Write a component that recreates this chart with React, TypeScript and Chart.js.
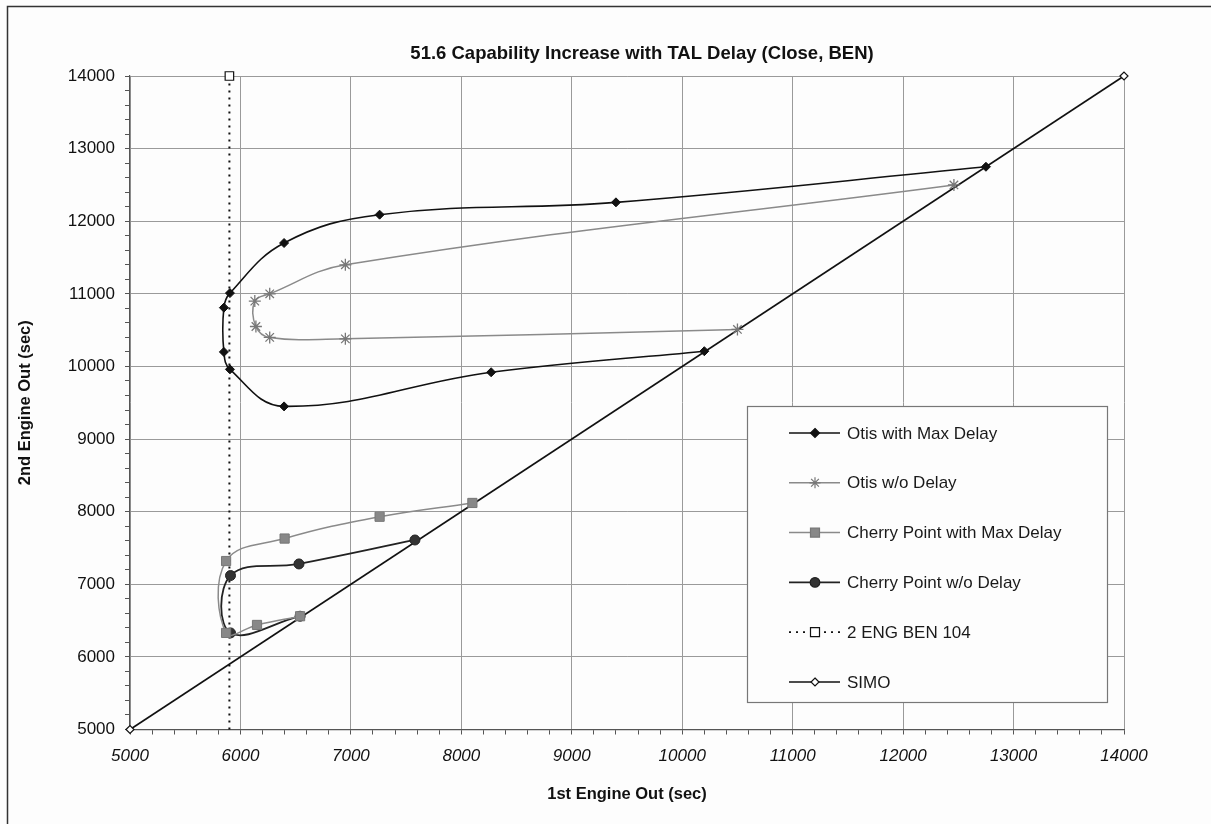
import React, { useEffect, useRef } from 'react';
import { Chart, registerables } from 'chart.js';

Chart.register(...registerables);

const titleText = '51.6 Capability Increase with TAL Delay (Close, BEN)';
const xAxisTitle = '1st Engine Out (sec)';
const yAxisTitle = '2nd Engine Out (sec)';

const seriesNames = [
  'Otis with Max Delay',
  'Otis w/o Delay',
  'Cherry Point with Max Delay',
  'Cherry Point w/o Delay',
  '2 ENG BEN 104',
  'SIMO',
];

const otisMaxX = [12750, 9400, 7260, 6395, 5905, 5850, 5850, 5905, 6395, 8270, 10200];
const otisMaxY = [12750, 12260, 12090, 11700, 11010, 10810, 10200, 9960, 9450, 9920, 10210];

const otisNoX = [12460, 6950, 6265, 6130, 6140, 6265, 6950, 10500];
const otisNoY = [12500, 11400, 11000, 10900, 10550, 10400, 10380, 10510];

const cherryMaxX = [8100, 7260, 6400, 5870, 5870, 6150, 6540];
const cherryMaxY = [8120, 7930, 7630, 7320, 6330, 6440, 6560];

const cherryNoX = [7580, 6530, 5910, 5910, 6540];
const cherryNoY = [7610, 7280, 7120, 6330, 6560];

const engBenX = [5900, 5900];
const engBenY = [5000, 14000];

const simoX = [5000, 14000];
const simoY = [5000, 14000];

const axisMin = 5000;
const axisMax = 14000;
const majorStep = 1000;
const minorStep = 200;

const FONT = "'Liberation Sans', Arial, sans-serif";

const pts = (xs: number[], ys: number[]) => xs.map((x, i) => ({ x, y: ys[i] }));

function drawMarker(
  ctx: CanvasRenderingContext2D,
  style: string,
  x: number,
  y: number,
  r: number,
  fill: string,
  stroke: string,
  lw: number
) {
  ctx.save();
  ctx.beginPath();
  ctx.lineWidth = lw;
  ctx.strokeStyle = stroke;
  ctx.fillStyle = fill;
  if (style === 'diamond') {
    ctx.moveTo(x, y - r);
    ctx.lineTo(x + r, y);
    ctx.lineTo(x, y + r);
    ctx.lineTo(x - r, y);
    ctx.closePath();
    ctx.fill();
    ctx.stroke();
  } else if (style === 'square') {
    ctx.rect(x - r, y - r, 2 * r, 2 * r);
    ctx.fill();
    ctx.stroke();
  } else if (style === 'circle') {
    ctx.arc(x, y, r, 0, Math.PI * 2);
    ctx.fill();
    ctx.stroke();
  } else if (style === 'star') {
    for (let k = 0; k < 4; k++) {
      const a = (k * Math.PI) / 4;
      ctx.moveTo(x - Math.cos(a) * r, y - Math.sin(a) * r);
      ctx.lineTo(x + Math.cos(a) * r, y + Math.sin(a) * r);
    }
    ctx.stroke();
  }
  ctx.restore();
}

const legendStyles = [
  { line: '#111', dash: [] as number[], lw: 1.5, marker: 'diamond', r: 4.5, fill: '#111', stroke: '#111' },
  { line: '#8a8a8a', dash: [] as number[], lw: 1.5, marker: 'star', r: 5.5, fill: '#777', stroke: '#777' },
  { line: '#8a8a8a', dash: [] as number[], lw: 1.5, marker: 'square', r: 4.5, fill: '#888', stroke: '#777' },
  { line: '#222', dash: [] as number[], lw: 1.8, marker: 'circle', r: 4.8, fill: '#333', stroke: '#222' },
  { line: '#111', dash: [2, 5], lw: 1.8, marker: 'square', r: 4.5, fill: '#fff', stroke: '#111' },
  { line: '#111', dash: [] as number[], lw: 1.5, marker: 'diamond', r: 4, fill: '#fff', stroke: '#111' },
];

const decorPlugin = {
  id: 'decor',
  beforeDraw(chart: any) {
    const ctx: CanvasRenderingContext2D = chart.ctx;
    ctx.save();
    ctx.fillStyle = '#fdfdfd';
    ctx.fillRect(0, 0, chart.width, chart.height);
    ctx.strokeStyle = '#333';
    ctx.lineWidth = 1.5;
    ctx.beginPath();
    ctx.moveTo(7.5, chart.height);
    ctx.lineTo(7.5, 6.5);
    ctx.lineTo(chart.width, 6.5);
    ctx.stroke();
    ctx.restore();
  },
  afterDraw(chart: any) {
    const ctx: CanvasRenderingContext2D = chart.ctx;
    ctx.save();
    // title
    ctx.fillStyle = '#111';
    ctx.font = `bold 18.5px ${FONT}`;
    ctx.textAlign = 'center';
    ctx.textBaseline = 'middle';
    ctx.fillText(titleText, 642, 54);

    // legend box
    const bx = 747.5, by = 406.5, bw = 360, bh = 296;
    ctx.fillStyle = '#fdfdfd';
    ctx.fillRect(bx, by, bw, bh);
    ctx.strokeStyle = '#777';
    ctx.lineWidth = 1.2;
    ctx.strokeRect(bx, by, bw, bh);

    ctx.font = `17px ${FONT}`;
    ctx.textAlign = 'left';
    ctx.textBaseline = 'middle';
    seriesNames.forEach((name, i) => {
      const st = legendStyles[i];
      const y = 433 + i * 49.8;
      ctx.save();
      ctx.strokeStyle = st.line;
      ctx.lineWidth = st.lw;
      ctx.setLineDash(st.dash);
      ctx.beginPath();
      ctx.moveTo(789, y);
      ctx.lineTo(840, y);
      ctx.stroke();
      ctx.restore();
      drawMarker(ctx, st.marker, 815, y, st.r, st.fill, st.stroke, 1.2);
      ctx.fillStyle = '#1a1a1a';
      ctx.fillText(name, 847, y + 1);
    });
    ctx.restore();
  },
};

export default function App() {
  const canvasRef = useRef<HTMLCanvasElement | null>(null);

  useEffect(() => {
    document.body.style.margin = '0';
    const canvas = canvasRef.current;
    if (!canvas) return;

    const isMajor = (v: number) => Math.abs(v % majorStep) < 1e-6;

    const chart = new Chart(canvas, {
      type: 'scatter',
      data: {
        datasets: [
          {
            label: seriesNames[0],
            data: pts(otisMaxX, otisMaxY),
            showLine: true,
            tension: 0.4,
            borderColor: '#111',
            borderWidth: 1.6,
            pointStyle: 'rectRot',
            pointRadius: 4.5,
            pointBackgroundColor: '#111',
            pointBorderColor: '#111',
            pointBorderWidth: 1,
          },
          {
            label: seriesNames[1],
            data: pts(otisNoX, otisNoY),
            showLine: true,
            tension: 0.4,
            borderColor: '#8a8a8a',
            borderWidth: 1.5,
            pointStyle: 'star',
            pointRadius: 6,
            pointBackgroundColor: '#777',
            pointBorderColor: '#777',
            pointBorderWidth: 1.3,
          },
          {
            label: seriesNames[2],
            data: pts(cherryMaxX, cherryMaxY),
            showLine: true,
            tension: 0.4,
            borderColor: '#8a8a8a',
            borderWidth: 1.5,
            pointStyle: 'rect',
            pointRadius: 6.5,
            pointBackgroundColor: '#888',
            pointBorderColor: '#777',
            pointBorderWidth: 1,
          },
          {
            label: seriesNames[3],
            data: pts(cherryNoX, cherryNoY),
            showLine: true,
            tension: 0.4,
            borderColor: '#222',
            borderWidth: 1.8,
            pointStyle: 'circle',
            pointRadius: 5,
            pointBackgroundColor: '#333',
            pointBorderColor: '#222',
            pointBorderWidth: 1,
          },
          {
            label: seriesNames[4],
            data: pts(engBenX, engBenY),
            showLine: true,
            tension: 0,
            borderColor: '#111',
            borderWidth: 2,
            borderDash: [2, 5],
            pointStyle: 'rect',
            pointRadius: [0, 6],
            pointBackgroundColor: '#fff',
            pointBorderColor: '#111',
            pointBorderWidth: 1.2,
            clip: false as any,
          },
          {
            label: seriesNames[5],
            data: pts(simoX, simoY),
            showLine: true,
            tension: 0,
            borderColor: '#111',
            borderWidth: 1.6,
            pointStyle: 'rectRot',
            pointRadius: 4,
            pointBackgroundColor: '#fff',
            pointBorderColor: '#111',
            pointBorderWidth: 1.2,
            clip: false as any,
          },
        ],
      },
      options: {
        responsive: false,
        devicePixelRatio: 1,
        animation: false,
        layout: { padding: { top: 76, right: 87, bottom: 0, left: 0 } },
        plugins: {
          legend: { display: false },
          title: { display: false },
          tooltip: { enabled: false },
        },
        scales: {
          x: {
            type: 'linear',
            position: 'bottom',
            min: axisMin,
            max: axisMax,
            afterFit: (s: any) => {
              s.height = 94.5;
            },
            ticks: {
              stepSize: minorStep,
              autoSkip: false,
              maxRotation: 0,
              padding: 12,
              color: '#111',
              font: { family: FONT, size: 17, style: 'italic' },
              callback: (v: any) => (isMajor(Number(v)) ? String(v) : ''),
            },
            grid: {
              color: (c: any) => (c.tick && isMajor(c.tick.value) ? '#9a9a9a' : 'rgba(0,0,0,0)'),
              tickColor: '#555',
              tickLength: 5,
              lineWidth: 1,
            },
            border: { color: '#555', width: 1.2 },
            title: {
              display: true,
              text: xAxisTitle,
              color: '#111',
              font: { family: FONT, size: 16.5, weight: 'bold' },
              padding: { top: 0, bottom: 20 },
            },
          },
          y: {
            type: 'linear',
            min: axisMin,
            max: axisMax,
            afterFit: (s: any) => {
              s.width = 130;
            },
            ticks: {
              stepSize: minorStep,
              autoSkip: false,
              padding: 10,
              color: '#111',
              font: { family: FONT, size: 17 },
              callback: (v: any) => (isMajor(Number(v)) ? String(v) : ''),
            },
            grid: {
              color: (c: any) => (c.tick && isMajor(c.tick.value) ? '#9a9a9a' : 'rgba(0,0,0,0)'),
              tickColor: '#555',
              tickLength: 5,
              lineWidth: 1,
            },
            border: { color: '#555', width: 1.2 },
            title: {
              display: true,
              text: yAxisTitle,
              color: '#111',
              font: { family: FONT, size: 16.5, weight: 'bold' },
              padding: { top: 16, bottom: 0 },
            },
          },
        },
      },
      plugins: [decorPlugin],
    } as any);

    return () => {
      chart.destroy();
    };
  }, []);

  return (
    <canvas
      ref={canvasRef}
      width={1211}
      height={824}
      style={{ display: 'block', width: '1211px', height: '824px' }}
    />
  );
}
